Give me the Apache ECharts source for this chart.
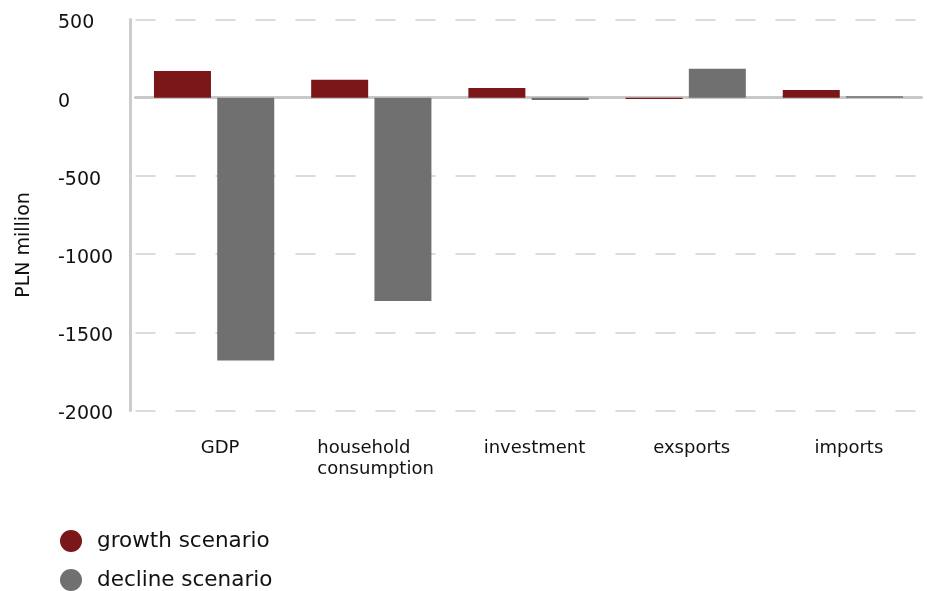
<!DOCTYPE html>
<html>
<head>
<meta charset="utf-8">
<script src="https://cdn.jsdelivr.net/npm/echarts@6/dist/echarts.min.js"></script>
<style>html,body{margin:0;padding:0;background:#fff;}#c{width:927px;height:591px;}</style>
</head>
<body>
<div id="c"></div>
<script>
const categories = ['GDP', 'household\nconsumption', 'investment', 'exsports', 'imports'];
const growthScenario = [170, 115, 62, -8, 50];
const declineScenario = [-1680, -1300, -15, 185, 10];
const seriesNames = ['growth scenario', 'decline scenario'];
const yTicks = { min: -2000, max: 500, interval: 500 };
const yAxisTitle = 'PLN million';

const FONT = '"DejaVu Sans", Inter, sans-serif';
const chart = echarts.init(document.getElementById('c'), null, { renderer: 'canvas' });
chart.setOption({
  animation: false,
  backgroundColor: '#ffffff',
  grid: { left: 135.5, right: 5.5, top: 19.5, bottom: 180.5, containLabel: false },
  legend: {
    orient: 'vertical', left: 60, top: 530, itemGap: 17, padding: 0, height: 70,
    icon: 'circle', itemWidth: 22, itemHeight: 22,
    textStyle: { fontFamily: FONT, fontSize: 21.5, lineHeight: 22, color: '#111', padding: [0, 0, 0, 10] },
    data: seriesNames
  },
  xAxis: [{
    type: 'category', data: categories,
    axisLine: { show: false, onZero: false },
    axisTick: { show: false },
    axisLabel: {
      interval: 0,
      margin: 27, fontFamily: FONT, fontSize: 18, color: '#111', lineHeight: 21,
      padding: [0, 0, 0, 12],
      formatter: function (v) {
        if (v.indexOf('\n') >= 0) {
          return v.split('\n').map(function (s) { return '{m|' + s + '}'; }).join('\n');
        }
        return v;
      },
      rich: { m: { width: 120, align: 'left', fontFamily: FONT, fontSize: 18, color: '#111', lineHeight: 21 } }
    },
    splitLine: { show: false }
  }, {
    type: 'category', data: categories, position: 'top',
    axisLine: { show: true, onZero: true, lineStyle: { color: '#c8c8c8', width: 3 } },
    axisTick: { show: false }, axisLabel: { show: false }, splitLine: { show: false }
  }],
  yAxis: {
    type: 'value', min: yTicks.min, max: yTicks.max, interval: yTicks.interval,
    offset: 5.5,
    name: yAxisTitle, nameLocation: 'middle', nameGap: 96, nameRotate: 90,
    nameTextStyle: { fontFamily: FONT, fontSize: 19, color: '#111', padding: [0, 0, 0, -60] },
    axisLine: { show: true, lineStyle: { color: '#cccccc', width: 3 } },
    axisTick: { show: false },
    axisLabel: { align: 'left', margin: 72, fontFamily: FONT, fontSize: 19, color: '#111',
      formatter: function (v) { return '{t|' + String(v) + '}'; },
      rich: { t: { fontFamily: FONT, fontSize: 19, color: '#111', padding: [8, 0, 0, 0] } } },
    splitLine: { show: true, lineStyle: { color: '#d0d0d0', width: 1.5, type: [20, 20] } }
  },
  series: [{
    name: seriesNames[0], type: 'bar', data: growthScenario,
    barWidth: 57, barGap: '11%', itemStyle: { color: '#7b1619' }
  }, {
    name: seriesNames[1], type: 'bar', data: declineScenario,
    barWidth: 57, barGap: '11%', itemStyle: { color: '#707070' }
  }]
});
</script>
</body>
</html>
